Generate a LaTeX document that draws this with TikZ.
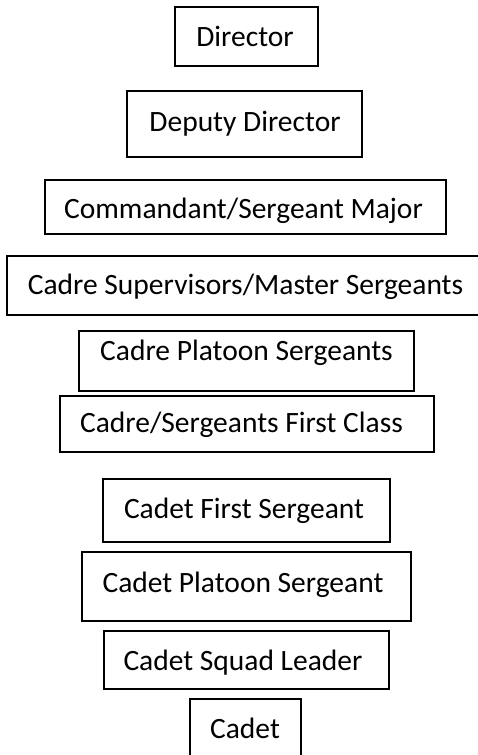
\documentclass[tikz,border=0pt]{standalone}
\usepackage{fontspec}
\setmainfont{Carlito}
\begin{document}
\begin{tikzpicture}[x=1pt,y=-1pt,
  rankbox/.style={draw=black,line width=1.6pt,fill=none,inner sep=0pt},
  ranktext/.style={anchor=base,inner sep=0pt,font=\fontsize{29.5}{34}\selectfont}]
\useasboundingbox (0,0) rectangle (478,755);
% rank boxes, given by their corners
\draw[rankbox] (175,7) rectangle (318,66) coordinate (b1);
\draw[rankbox] (127,91) rectangle (362,157) coordinate (b2);
\draw[rankbox] (45,180) rectangle (446,234) coordinate (b3);
\draw[rankbox] (7,256) rectangle (495,315) coordinate (b4);
\draw[rankbox] (79,331) rectangle (414,391) coordinate (b5);
\draw[rankbox] (60,396) rectangle (434,452) coordinate (b6);
\draw[rankbox] (103,479) rectangle (390,542) coordinate (b7);
\draw[rankbox] (82,552) rectangle (411,621) coordinate (b8);
\draw[rankbox] (104,631) rectangle (389,689) coordinate (b9);
\draw[rankbox] (190,699) rectangle (301,775) coordinate (b10);
% labels, placed on their baselines
\node[ranktext] (t1) at (245,46) {Director};
\node[ranktext] (t2) at (245,131) {Deputy Director};
\node[ranktext] (t3) at (243.5,218) {Commandant/Sergeant Major};
\node[ranktext] (t4) at (245.5,294) {Cadre Supervisors/Master Sergeants};
\node[ranktext] (t5) at (246.5,360) {Cadre Platoon Sergeants};
\node[ranktext] (t6) at (241.5,432) {Cadre/Sergeants First Class};
\node[ranktext] (t7) at (244,518) {Cadet First Sergeant};
\node[ranktext] (t8) at (243,592) {Cadet Platoon Sergeant};
\node[ranktext] (t9) at (243,670) {Cadet Squad Leader};
\node[ranktext] (t10) at (245,738) {Cadet};
\end{tikzpicture}
\end{document}
